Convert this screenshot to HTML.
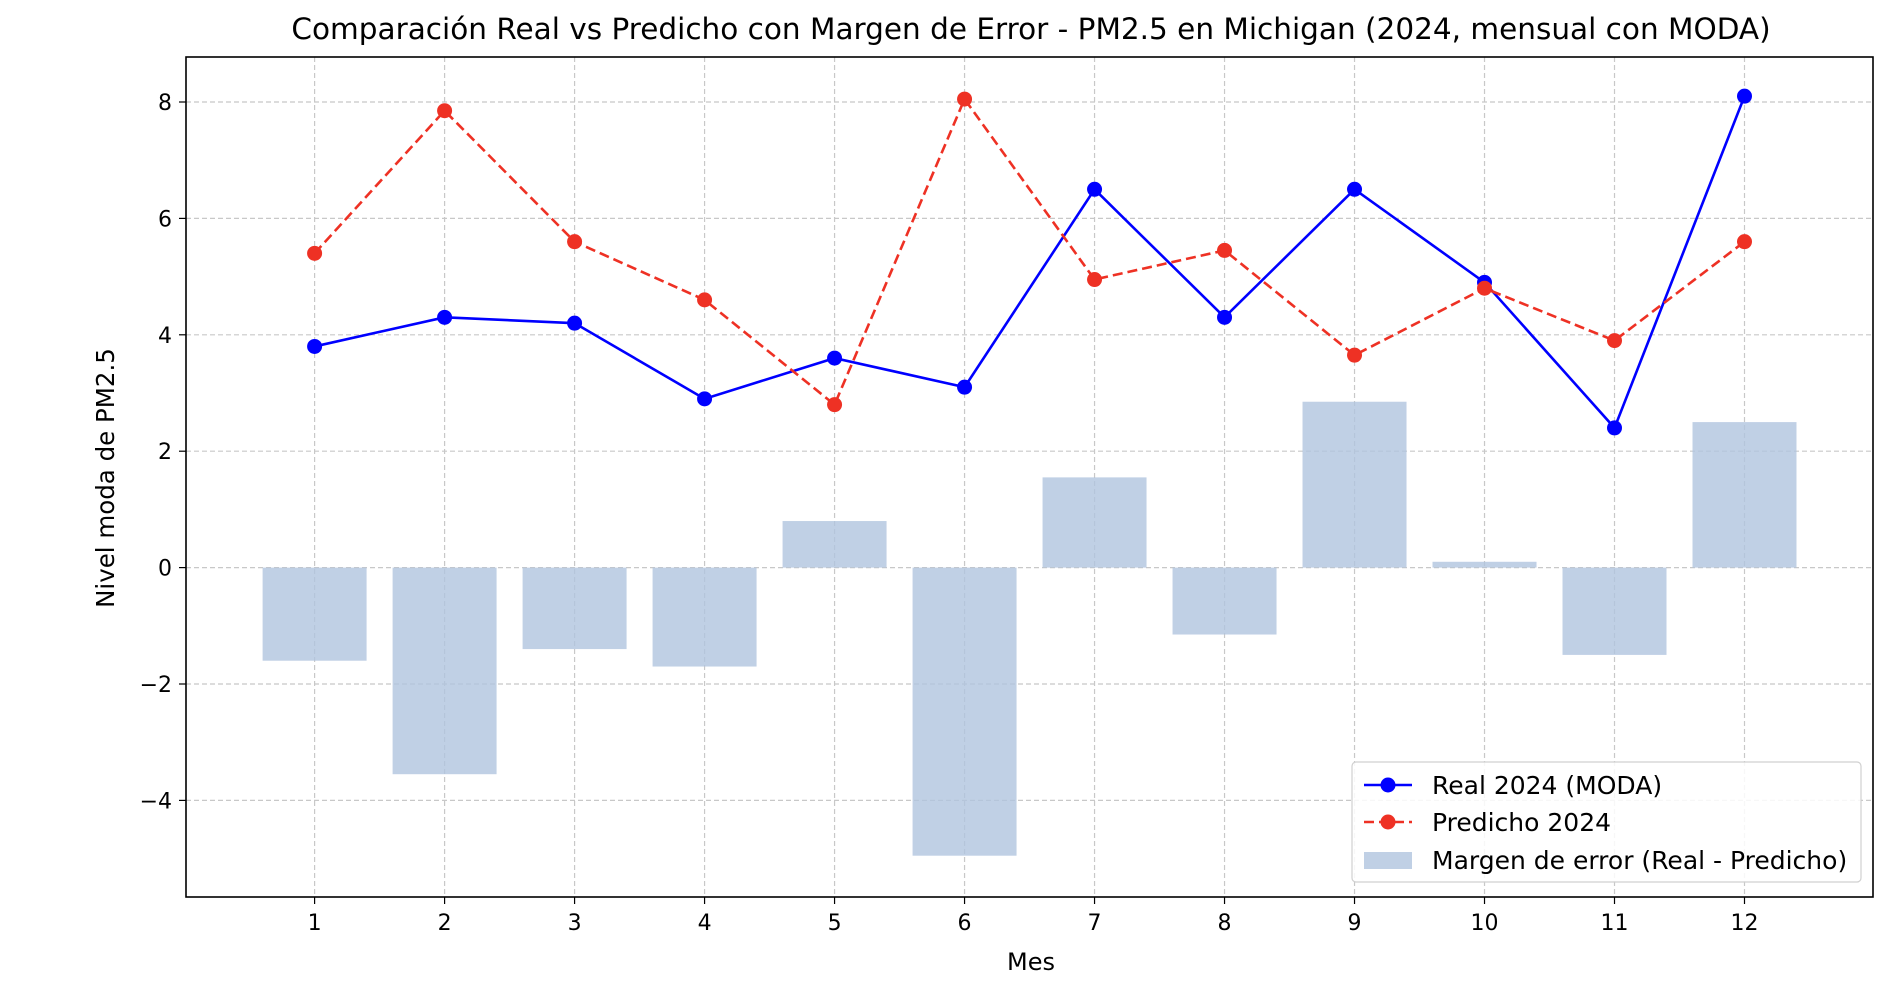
<!DOCTYPE html>
<html><head><meta charset="utf-8"><style>
html,body{margin:0;padding:0;background:#fff;}
svg{display:block;font-family:"DejaVu Sans","Liberation Sans",sans-serif;}
</style></head><body>
<svg id="chart" width="1904" height="988" viewBox="0 0 1904 988"></svg>
<script>
const months=[1,2,3,4,5,6,7,8,9,10,11,12];
const realVals=[3.8,4.3,4.2,2.9,3.6,3.1,6.5,4.3,6.5,4.9,2.4,8.1];
const predVals=[5.4,7.85,5.6,4.6,2.8,8.05,4.95,5.45,3.65,4.8,3.9,5.6];
const errVals=[-1.6,-3.55,-1.4,-1.7,0.8,-4.95,1.55,-1.15,2.85,0.1,-1.5,2.5];
const yTicks=[-4,-2,0,2,4,6,8];
const xTickLabels=["1","2","3","4","5","6","7","8","9","10","11","12"];
const NS="http://www.w3.org/2000/svg";
const svg=document.getElementById('chart');
const L=186,R=1873,T=57,B=897;
const X1=314.6,X12=1744.5;
function xs(m){return X1+(m-1)*(X12-X1)/11;}
function ys(v){return 567.6-v*(567.6-102)/8;}
function el(t,a,p){const e=document.createElementNS(NS,t);for(const k in a)e.setAttribute(k,a[k]);(p||svg).appendChild(e);return e;}
yTicks.forEach(v=>{const g=el('line',{x1:L,x2:R,y1:ys(v),y2:ys(v),stroke:'#c8c8c8','stroke-width':1.2,'stroke-dasharray':'5,3'});

});
months.forEach(m=>{const g=el('line',{x1:xs(m),x2:xs(m),y1:T,y2:B,stroke:'#c8c8c8','stroke-width':1.2,'stroke-dasharray':'5,3'});

});
const bw=0.8*(X12-X1)/11;
months.forEach((m,i)=>{const v=errVals[i];const b=el('rect',{x:xs(m)-bw/2,y:Math.min(ys(v),ys(0)),width:bw,height:Math.abs(ys(v)-ys(0)),fill:'#b0c4de','fill-opacity':0.8});

});
function series(vals,color,dash,name){
 const p=el('polyline',{points:vals.map((v,i)=>xs(months[i])+','+ys(v)).join(' '),fill:'none',stroke:color,'stroke-width':2.6,'stroke-dasharray':dash});
 
 
 vals.forEach((v,i)=>{const c=el('circle',{cx:xs(months[i]),cy:ys(v),r:7.5,fill:color});
 
 });
}
series(realVals,'#0000ff','none','real');
series(predVals,'#ee3124','10,5','predicted');
const ax=el('rect',{x:L,y:T,width:R-L,height:B-T,fill:'none',stroke:'#000','stroke-width':1.6});


yTicks.forEach(v=>{el('line',{x1:L-7,x2:L,y1:ys(v),y2:ys(v),stroke:'#000','stroke-width':1.2});
const t=el('text',{x:L-14,y:ys(v)+8,'text-anchor':'end','font-size':22,fill:'#000'});t.textContent=(v<0?'\u2212'+(-v):v);

});
months.forEach((m,i)=>{el('line',{x1:xs(m),x2:xs(m),y1:B,y2:B+7,stroke:'#000','stroke-width':1.2});
const t=el('text',{x:xs(m),y:B+33,'text-anchor':'middle','font-size':22,fill:'#000'});t.textContent=xTickLabels[i];

});
</script>
<svg width="1904" height="988" style="position:absolute;left:0;top:0">
<text x="1031" y="39" text-anchor="middle" font-size="29.5" fill="#000">Comparación Real vs Predicho con Margen de Error - PM2.5 en Michigan (2024, mensual con MODA)</text>
<text x="1031" y="970" text-anchor="middle" font-size="24" fill="#000">Mes</text>
<text transform="translate(114,478) rotate(-90)" text-anchor="middle" font-size="24.5" fill="#000">Nivel moda de PM2.5</text>
<g>
<rect x="1352" y="762" width="509" height="120" rx="4" fill="#fff" fill-opacity="0.85" stroke="#d0d0d0" stroke-width="1.2"/>
<line x1="1364" x2="1412" y1="785" y2="785" stroke="#0000ff" stroke-width="2.6"/><circle cx="1388" cy="785" r="7.5" fill="#0000ff"/>
<text x="1432" y="794" font-size="25" fill="#000">Real 2024 (MODA)</text>
<line x1="1364" x2="1412" y1="822" y2="822" stroke="#ee3124" stroke-width="2.6" stroke-dasharray="10,5"/><circle cx="1388" cy="822" r="7.5" fill="#ee3124"/>
<text x="1432" y="831" font-size="25" fill="#000">Predicho 2024</text>
<rect x="1364" y="852" width="48" height="17" fill="#b0c4de" fill-opacity="0.8"/>
<text x="1432" y="869" font-size="25" fill="#000">Margen de error (Real - Predicho)</text>
</g>
</svg>
</body></html>
